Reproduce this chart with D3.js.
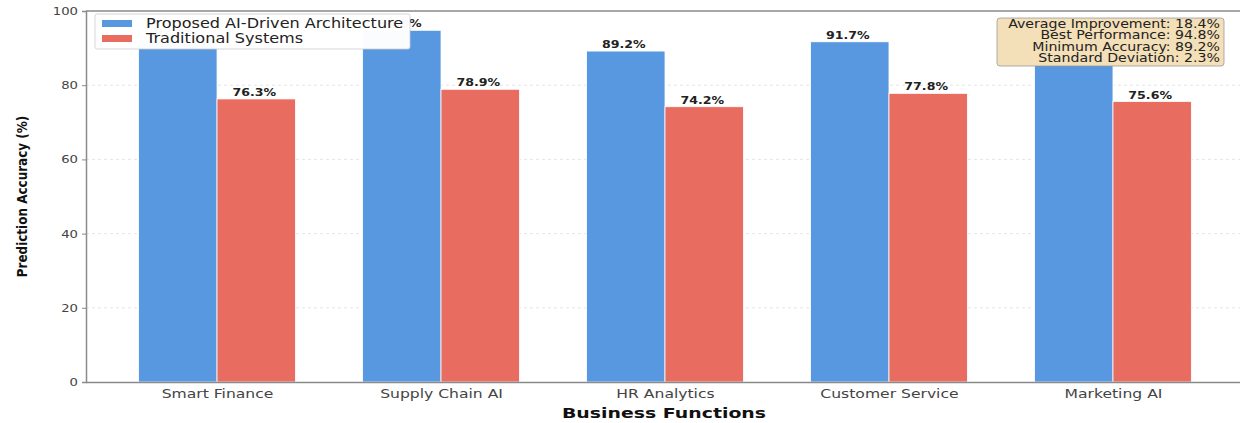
<!DOCTYPE html>
<html>
<head>
<meta charset="utf-8">
<script src="https://cdn.jsdelivr.net/npm/d3@7"></script>
<style>
  body { margin: 0; background: #fff; }
  svg { display: block; font-family: "DejaVu Sans", sans-serif; }
</style>
</head>
<body>
<svg id="chart" width="1240" height="423"></svg>
<script>
const categories = ["Smart Finance", "Supply Chain AI", "HR Analytics", "Customer Service", "Marketing AI"];
const proposed = [92.4, 94.8, 89.2, 91.7, 90.1];
const traditional = [76.3, 78.9, 74.2, 77.8, 75.6];
const seriesNames = ["Proposed AI-Driven Architecture", "Traditional Systems"];
const yTicks = [0, 20, 40, 60, 80, 100];
const statsLines = [
  "Average Improvement: 18.4%",
  "Best Performance: 94.8%",
  "Minimum Accuracy: 89.2%",
  "Standard Deviation: 2.3%"
];

const colors = ["#5898e0", "#e96c60"];
const SX = 1.2; // horizontal stretch of text in reference
const svg = d3.select("#chart");
const L = 86, R = 1244, T = 11, B = 382;
const barW = 0.35;

const x = d3.scaleLinear().domain([-0.585, 4.585]).range([L, R]);
const y = d3.scaleLinear().domain([0, 100]).range([B, T]);

// grid
svg.append("g").selectAll("line").data(yTicks.filter(d => d > 0 && d < 100)).join("line")
  .attr("x1", L).attr("x2", R).attr("y1", d => y(d)).attr("y2", d => y(d))
  .attr("stroke", "#dedede").attr("stroke-width", 0.8).attr("stroke-dasharray", "3,3");

// bars
const series = [proposed, traditional];
series.forEach((vals, si) => {
  const off = si === 0 ? -barW / 2 : barW / 2;
  svg.append("g").selectAll("rect").data(vals).join("rect")
    .attr("x", (d, i) => x(i + off - barW / 2))
    .attr("width", x(barW) - x(0))
    .attr("y", d => y(d))
    .attr("height", d => B - y(d))
    .attr("fill", colors[si])
    .attr("stroke", "#fff").attr("stroke-width", 0.8);
  svg.append("g").selectAll("text").data(vals).join("text")
    .attr("transform", (d, i) => `translate(${x(i + off) - 2},${y(d) - 3}) scale(${SX},1)`)
    .attr("text-anchor", "middle")
    .attr("font-size", 10.5).attr("font-weight", "bold").attr("fill", "#222")
    .text(d => d.toFixed(1) + "%");
});

// axes
const yAxis = svg.append("g").attr("transform", `translate(${L},0)`)
  .call(d3.axisLeft(y).tickValues(yTicks).tickSize(4).tickPadding(4));
const xAxis = svg.append("g").attr("transform", `translate(0,${B})`)
  .call(d3.axisBottom(x).tickValues(d3.range(categories.length)).tickFormat(i => categories[i]).tickSize(0).tickPadding(7));
[yAxis, xAxis].forEach(a => {
  a.select(".domain").attr("stroke", "#8a8a8a").attr("stroke-width", 1.5);
  a.selectAll(".tick line").attr("stroke", "#8a8a8a");
  a.selectAll(".tick text").attr("fill", "#444").attr("font-size", 11)
    .attr("font-family", "DejaVu Sans, sans-serif");
});
yAxis.selectAll(".tick text").each(function () {
  const t = d3.select(this);
  const xx = +t.attr("x");
  t.attr("x", 0).attr("transform", `translate(${xx},0) scale(${SX},1)`);
});
xAxis.selectAll(".tick text").attr("font-size", 13).each(function () {
  const t = d3.select(this);
  const yy = +t.attr("y");
  t.attr("y", 0).attr("dy", "0.71em").attr("transform", `translate(0,${yy}) scale(${SX},1)`);
});
// top spine
svg.append("line").attr("x1", L).attr("x2", R).attr("y1", T).attr("y2", T)
  .attr("stroke", "#8a8a8a").attr("stroke-width", 1.5);

// axis labels
svg.append("text")
  .attr("transform", `translate(664,418) scale(1.35,1)`)
  .attr("text-anchor", "middle").attr("font-size", 14).attr("font-weight", "bold").attr("fill", "#111")
  .text("Business Functions");
svg.append("text")
  .attr("transform", `translate(27,${(T + B) / 2}) rotate(-90) scale(1,${SX})`)
  .attr("text-anchor", "middle").attr("font-size", 12).attr("font-weight", "bold").attr("fill", "#111")
  .text("Prediction Accuracy (%)");

// legend
const lg = svg.append("g");
lg.append("rect").attr("x", 95).attr("y", 14).attr("width", 315).attr("height", 35)
  .attr("rx", 2).attr("fill", "#fff").attr("fill-opacity", 0.97)
  .attr("stroke", "#cccccc").attr("stroke-width", 0.8);
seriesNames.forEach((n, i) => {
  lg.append("rect").attr("x", 102).attr("y", 20 + i * 15).attr("width", 30).attr("height", 7)
    .attr("fill", colors[i]);
  lg.append("text").attr("transform", `translate(146,${28 + i * 15}) scale(${SX},1)`)
    .attr("font-size", 13.4).attr("fill", "#222").text(n);
});

// stats box
const sb = svg.append("g");
sb.append("rect").attr("x", 997).attr("y", 18).attr("width", 227).attr("height", 48)
  .attr("rx", 3).attr("fill", "#f3dfb8").attr("fill-opacity", 1)
  .attr("stroke", "#999").attr("stroke-width", 0.8);
statsLines.forEach((s, i) => {
  sb.append("text").attr("transform", `translate(1220,${28 + i * 11.4}) scale(${SX},1)`)
    .attr("text-anchor", "end").attr("font-size", 11.8).attr("fill", "#222").text(s);
});
</script>
</body>
</html>
